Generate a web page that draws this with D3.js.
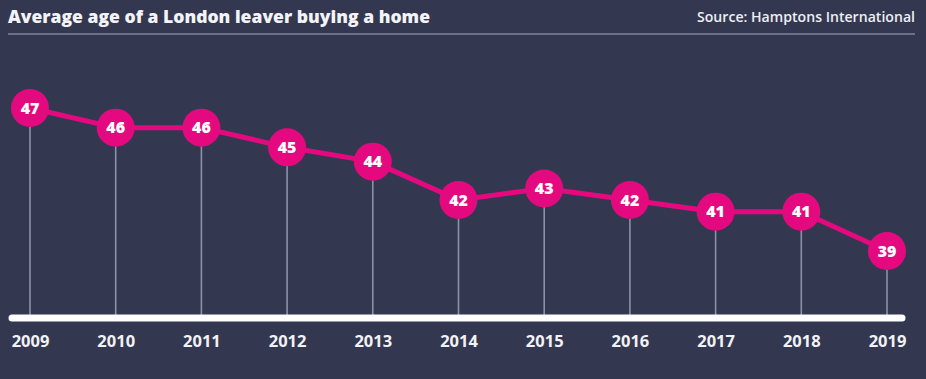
<!DOCTYPE html>
<html><head><meta charset="utf-8">
<script src="https://cdn.jsdelivr.net/npm/d3@7"></script>
<style>
html,body{margin:0;padding:0;background:#333850;}
svg{display:block;}
</style></head>
<body>
<svg id="c" width="926" height="379"></svg>
<script>
const years = ["2009","2010","2011","2012","2013","2014","2015","2016","2017","2018","2019"];
const ages = [47, 45.9, 45.9, 44.8, 44.0, 41.85, 42.5, 41.85, 41.2, 41.2, 39];
const labels = ["47","46","46","45","44","42","43","42","41","41","39"];
const title = "Average age of a London leaver buying a home";
const source = "Source: Hamptons International";

const svg = d3.select("#c");
const W = 926, H = 379;
const font = "'Open Sans', Lato, sans-serif";
svg.append("rect").attr("width", W).attr("height", H).attr("fill", "#333850");

svg.append("text").attr("x", 8).attr("y", 23).text(title)
  .attr("fill", "#f4f4f8").attr("font-family", font).attr("font-weight", 800)
  .attr("font-size", 18).attr("textLength", 422).attr("lengthAdjust", "spacingAndGlyphs");
svg.append("text").attr("x", 915).attr("y", 22).attr("text-anchor", "end").text(source)
  .attr("fill", "#eeeef3").attr("font-family", font).attr("font-weight", 600)
  .attr("font-size", 14).attr("textLength", 218).attr("lengthAdjust", "spacingAndGlyphs");
svg.append("line").attr("x1", 8).attr("x2", 915).attr("y1", 34).attr("y2", 34)
  .attr("stroke", "#6c7188").attr("stroke-width", 2);

const x = d3.scalePoint().domain(years).range([30, 887]);
const y = d3.scaleLinear().domain([39, 47]).range([251, 108]);
const baseY = 318;

// stems
svg.append("g").selectAll("line").data(years).join("line")
  .attr("x1", d => x(d)).attr("x2", d => x(d))
  .attr("y1", (d, i) => y(ages[i])).attr("y2", baseY)
  .attr("stroke", "#8d91a4").attr("stroke-width", 1.6);

// baseline
svg.append("line").attr("x1", 12).attr("x2", 902).attr("y1", baseY).attr("y2", baseY)
  .attr("stroke", "#ffffff").attr("stroke-width", 7).attr("stroke-linecap", "round");

// year axis
const axis = d3.axisBottom(x).tickSize(0).tickPadding(0);
const ax = svg.append("g").attr("transform", `translate(0,${baseY + 29})`).call(axis);
ax.select(".domain").remove();
ax.selectAll("text").attr("fill", "#f2f2f6").attr("font-family", font)
  .attr("font-weight", 700).attr("font-size", 16.5).attr("dy", 0);

// line
const line = d3.line().x((d, i) => x(years[i])).y(d => y(d));
svg.append("path").datum(ages).attr("d", line).attr("fill", "none")
  .attr("stroke", "#e5097f").attr("stroke-width", 5).attr("stroke-linejoin", "round");

const g = svg.append("g").selectAll("g").data(ages).join("g")
  .attr("transform", (d, i) => `translate(${x(years[i])},${y(d)})`);
g.append("circle").attr("r", 19).attr("fill", "#e5097f");
g.append("text").text((d, i) => labels[i]).attr("text-anchor", "middle").attr("dy", "0.36em")
  .attr("fill", "#ffffff").attr("font-family", font).attr("font-weight", 800).attr("font-size", 16);
</script>
</body></html>
